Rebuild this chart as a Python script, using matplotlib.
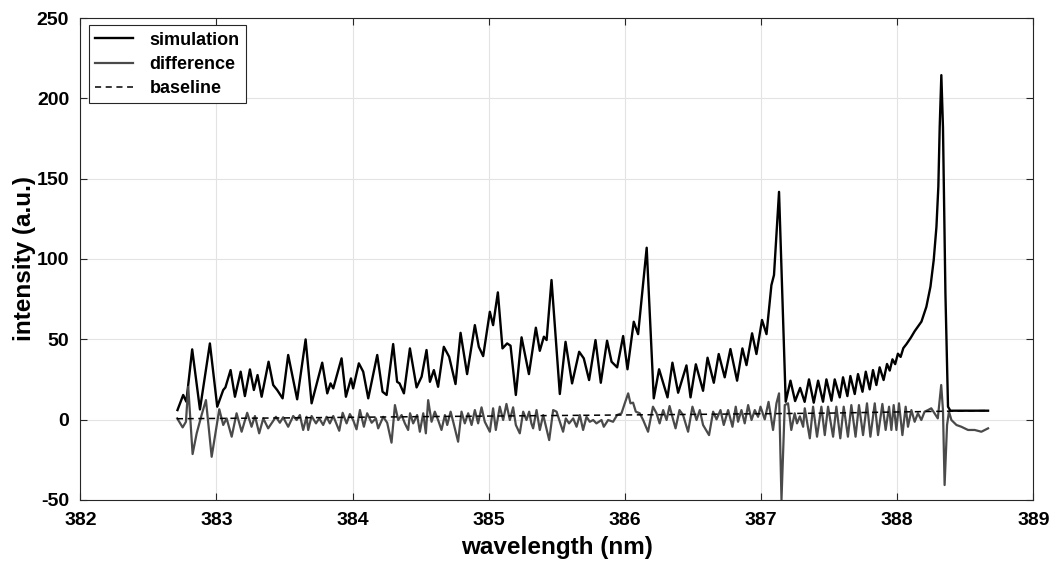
import matplotlib
matplotlib.use("Agg")
import matplotlib.pyplot as plt
import numpy as np

plt.rcParams['font.family'] = ['Liberation Sans', 'DejaVu Sans']
plt.rcParams['font.weight'] = 'bold'
plt.rcParams['axes.unicode_minus'] = False

# simulated spectrum (wavelength nm, intensity a.u.)
sim_wl = [382.714, 382.756, 382.779, 382.822, 382.879, 382.952, 383.006, 383.050, 383.066, 383.104,
          383.136, 383.178, 383.209, 383.246, 383.275, 383.302, 383.332, 383.383, 383.417, 383.446,
          383.486, 383.527, 383.593, 383.655, 383.699, 383.777, 383.814, 383.838, 383.858, 383.919,
          383.951, 383.988, 384.004, 384.046, 384.078, 384.115, 384.181, 384.220, 384.250, 384.298,
          384.327, 384.345, 384.377, 384.421, 384.470, 384.507, 384.543, 384.568, 384.597, 384.628,
          384.670, 384.709, 384.756, 384.793, 384.841, 384.898, 384.927, 384.959, 385.008, 385.032,
          385.067, 385.101, 385.135, 385.160, 385.199, 385.241, 385.295, 385.346, 385.375, 385.405,
          385.425, 385.461, 385.522, 385.564, 385.612, 385.664, 385.698, 385.737, 385.784, 385.823,
          385.869, 385.902, 385.943, 385.987, 386.019, 386.065, 386.097, 386.160, 386.212, 386.251,
          386.313, 386.349, 386.391, 386.452, 386.482, 386.521, 386.574, 386.607, 386.653, 386.689,
          386.733, 386.775, 386.824, 386.863, 386.893, 386.934, 386.966, 387.007, 387.040, 387.076,
          387.095, 387.132, 387.181, 387.216, 387.250, 387.287, 387.320, 387.352, 387.387, 387.419,
          387.455, 387.480, 387.517, 387.541, 387.578, 387.602, 387.634, 387.656, 387.688, 387.712,
          387.745, 387.769, 387.798, 387.822, 387.847, 387.871, 387.900, 387.925, 387.945, 387.965,
          387.985, 388.005, 388.025, 388.045, 388.068, 388.100, 388.128, 388.178, 388.214, 388.244,
          388.268, 388.288, 388.302, 388.312, 388.324, 388.336, 388.354, 388.373, 388.390, 388.667]
sim_int = [5.9, 15.3, 11.1, 43.7, 6.3, 47.4, 8.0, 18.4, 20.0, 30.8,
           14.2, 29.8, 14.6, 31.2, 18.4, 27.7, 14.2, 36.0, 21.5, 18.4,
           13.2, 40.2, 12.6, 49.9, 10.1, 35.4, 16.3, 22.5, 19.4, 38.1,
           14.2, 25.6, 19.4, 35.0, 29.8, 13.2, 40.2, 17.3, 15.3, 47.0,
           23.5, 22.5, 16.3, 44.3, 20.0, 26.7, 43.3, 23.5, 30.8, 20.4,
           45.3, 39.1, 22.1, 54.0, 28.3, 58.8, 45.3, 39.5, 67.1, 58.8,
           79.2, 44.3, 47.4, 46.0, 15.3, 51.2, 28.3, 57.2, 42.8, 51.6,
           49.5, 86.9, 15.9, 48.4, 22.5, 42.2, 38.1, 24.6, 49.5, 22.9,
           49.1, 36.0, 32.5, 52.0, 31.3, 60.9, 53.2, 107.0, 13.2, 31.3,
           13.8, 35.4, 16.7, 33.7, 13.8, 34.4, 17.9, 38.5, 22.9, 40.8,
           26.3, 43.9, 24.2, 44.3, 33.9, 53.7, 40.8, 62.0, 53.2, 83.7,
           90.0, 141.8, 11.1, 24.2, 11.5, 19.7, 11.0, 25.0, 10.5, 24.2,
           11.1, 25.0, 11.7, 25.0, 13.8, 26.3, 14.6, 27.1, 15.9, 28.3,
           17.3, 29.8, 18.8, 30.8, 21.5, 32.5, 24.6, 34.6, 30.5, 37.5,
           34.5, 41.0, 39.0, 44.5, 47.0, 51.0, 55.0, 61.0, 70.2, 82.7,
           99.3, 120.0, 145.0, 182.3, 214.5, 182.0, 78.6, 8.0, 5.5, 5.5]

# difference between measured and simulated spectrum
diff_wl = [382.712, 382.752, 382.776, 382.793, 382.825, 382.855, 382.891, 382.923, 382.965, 383.021,
           383.050, 383.075, 383.112, 383.148, 383.185, 383.226, 383.258, 383.283, 383.314, 383.344,
           383.380, 383.437, 383.466, 383.490, 383.527, 383.564, 383.589, 383.613, 383.637, 383.662,
           383.674, 383.699, 383.731, 383.755, 383.784, 383.809, 383.833, 383.858, 383.902, 383.927,
           383.956, 383.980, 384.004, 384.029, 384.054, 384.083, 384.107, 384.140, 384.171, 384.188,
           384.225, 384.254, 384.286, 384.311, 384.335, 384.360, 384.384, 384.408, 384.422, 384.445,
           384.474, 384.494, 384.519, 384.538, 384.555, 384.580, 384.604, 384.628, 384.653, 384.678,
           384.695, 384.720, 384.739, 384.775, 384.800, 384.824, 384.849, 384.874, 384.898, 384.922,
           384.947, 384.971, 385.008, 385.032, 385.052, 385.081, 385.106, 385.130, 385.155, 385.179,
           385.199, 385.228, 385.253, 385.277, 385.297, 385.313, 385.326, 385.351, 385.375, 385.400,
           385.444, 385.473, 385.498, 385.522, 385.546, 385.566, 385.590, 385.620, 385.645, 385.669,
           385.693, 385.718, 385.742, 385.767, 385.791, 385.828, 385.845, 385.877, 385.913, 385.943,
           385.975, 385.999, 386.024, 386.041, 386.060, 386.080, 386.109, 386.134, 386.170, 386.206,
           386.232, 386.255, 386.281, 386.306, 386.328, 386.355, 386.372, 386.401, 386.427, 386.464,
           386.496, 386.526, 386.550, 386.574, 386.618, 386.648, 386.673, 386.702, 386.726, 386.758,
           386.790, 386.814, 386.831, 386.856, 386.880, 386.905, 386.930, 386.954, 386.978, 386.996,
           387.027, 387.055, 387.088, 387.113, 387.132, 387.150, 387.174, 387.198, 387.222, 387.247,
           387.264, 387.285, 387.309, 387.321, 387.358, 387.382, 387.411, 387.443, 387.468, 387.492,
           387.529, 387.553, 387.582, 387.607, 387.638, 387.663, 387.694, 387.719, 387.749, 387.778,
           387.803, 387.835, 387.859, 387.891, 387.915, 387.940, 387.957, 387.974, 387.994, 388.013,
           388.038, 388.062, 388.079, 388.104, 388.128, 388.152, 388.177, 388.201, 388.226, 388.250,
           388.274, 388.298, 388.323, 388.336, 388.348, 388.366, 388.380, 388.398, 388.435, 388.471,
           388.520, 388.569, 388.618, 388.667]
diff_int = [0.7, -4.9, -1.4, 20.4, -21.5, -8.6, 2.8, 12.1, -23.2, 6.4,
            -3.4, 0.7, -10.7, 3.9, -7.6, 4.2, -4.5, 2.2, -8.6, 0.7,
            -5.5, 1.7, -2.0, 1.4, -4.5, 2.2, -0.3, 2.8, -6.5, 1.7,
            -6.5, 2.2, -2.4, 0.7, -3.4, 1.7, -2.4, 2.2, -7.0, 4.2,
            -2.4, 3.4, -0.3, -6.1, 5.9, -4.5, 3.9, -2.0, 0.7, -5.5,
            1.7, -2.0, -14.4, 9.0, -0.3, 2.8, -2.4, -6.5, 3.9, -2.4,
            2.8, -7.6, 3.9, -8.6, 12.1, -1.4, 4.9, -0.3, -6.5, 2.8,
            -3.4, 4.9, -1.4, -13.8, 4.9, -2.4, 3.9, -3.4, 5.9, -2.4,
            7.6, -1.4, -7.6, 7.0, -6.5, 8.0, -0.3, 9.7, -0.3, 7.6,
            -3.4, -8.6, 4.9, -0.3, 4.9, -2.4, -5.5, 5.9, -6.5, 2.8,
            -12.8, 5.9, 4.9, -1.4, -7.6, 0.7, -2.4, 0.7, -4.5, 2.8,
            -6.5, 1.7, -1.4, -0.3, -2.4, -0.3, -4.5, -0.3, -1.4, 2.8,
            3.9, 10.1, 16.3, 10.1, 10.5, 4.9, 3.9, -0.3, -7.6, 8.0,
            3.9, -2.4, 5.9, -0.3, 8.4, -0.3, -5.5, 5.9, 2.8, -7.6,
            8.0, -0.3, 5.9, -3.4, -9.7, 4.9, 0.1, 5.9, -3.4, 5.9,
            -4.5, 8.0, -1.4, 5.9, -2.4, 9.0, -0.3, 5.9, 1.7, 8.0,
            0.1, 11.0, -6.5, 10.1, 16.3, -50.0, 9.0, 10.1, -6.5, 3.9,
            -2.4, 2.0, -4.5, 7.0, -11.7, 8.0, -10.7, 8.0, -9.7, 8.0,
            -10.7, 8.0, -11.7, 8.0, -10.7, 9.0, -10.7, 9.0, -9.7, 10.1,
            -10.7, 10.1, -9.7, 9.7, -6.5, 8.0, -6.5, 9.0, -6.5, 10.1,
            -9.7, 8.0, -4.5, 5.9, -1.4, 3.9, -0.3, 4.9, 5.9, 7.0,
            3.9, 0.7, 21.5, 5.9, -40.8, -3.4, 4.9, -0.3, -3.4, -4.5,
            -6.5, -6.5, -7.6, -5.5]

# fitted baseline
base_wl = [382.71, 383.5, 384.5, 385.5, 386.5, 387.5, 388.0, 388.67]
base_int = [0.5, 1.0, 1.8, 2.5, 3.2, 4.0, 4.7, 5.6]

fig = plt.figure(figsize=(10.52, 5.67), dpi=100)
ax = fig.add_axes([0.0763, 0.1185, 0.906, 0.8495])

ax.plot(sim_wl, sim_int, color='black', lw=1.7, label='simulation',
        solid_joinstyle='round')
ax.plot(diff_wl, diff_int, color='#4a4a4a', lw=1.6, label='difference',
        solid_joinstyle='round')
ax.plot(base_wl, base_int, color='black', lw=1.1, ls=(0, (4, 3)), label='baseline')

ax.set_xlim(382, 389)
ax.set_ylim(-50, 250)
ax.set_xticks(np.arange(382, 390, 1))
ax.set_yticks(np.arange(-50, 251, 50))
ax.grid(True, color='#e3e3e3', lw=0.8)
ax.set_axisbelow(True)
ax.tick_params(direction='in', top=True, right=True, length=5, width=0.8,
               colors='#262626', labelsize=14)
ax.tick_params(axis='x', pad=9)
ax.tick_params(axis='y', pad=8)
for lab in ax.get_xticklabels() + ax.get_yticklabels():
    lab.set_fontweight('bold')
    lab.set_color('black')
for sp in ax.spines.values():
    sp.set_color('#262626')
    sp.set_linewidth(0.8)

ax.set_xlabel('wavelength (nm)', fontsize=17.5, fontweight='bold')
ax.set_ylabel('intensity (a.u.)', fontsize=17.5, fontweight='bold')
ax.xaxis.set_label_coords(0.5, -0.1)
ax.yaxis.set_label_coords(-0.058, 0.5)
ax.xaxis.label.set_va('center')
ax.yaxis.label.set_va('center')

leg = ax.legend(loc='upper left', bbox_to_anchor=(0.009, 0.985), fontsize=13,
                frameon=True, fancybox=False, framealpha=1, edgecolor='#262626',
                handlelength=2.1, handletextpad=0.9, borderpad=0.35, labelspacing=0.4,
                borderaxespad=0.0)
leg.get_frame().set_linewidth(0.8)
for t in leg.get_texts():
    t.set_fontweight('bold')

fig.savefig('out.png', dpi=100)
